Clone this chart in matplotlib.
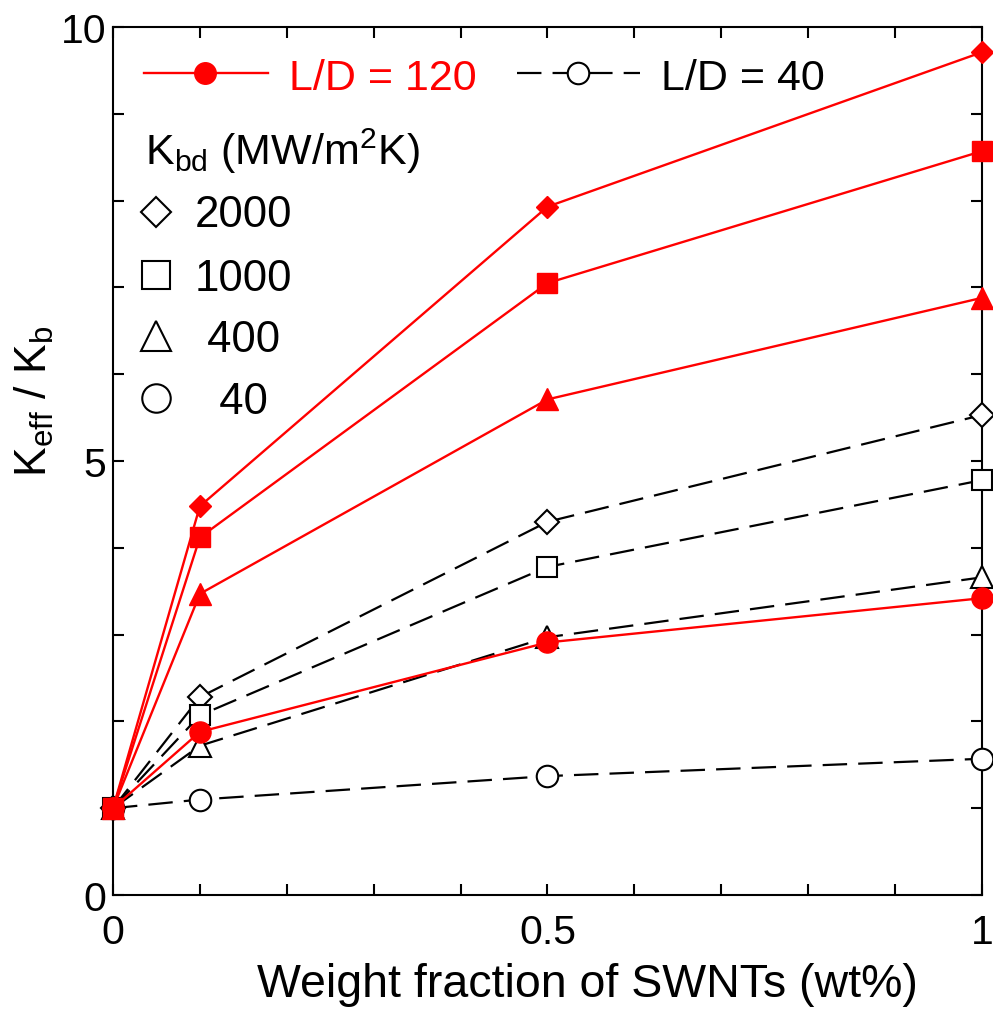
import matplotlib
matplotlib.use("Agg")
import matplotlib.pyplot as plt

plt.rcParams['font.family'] = ['Liberation Sans', 'DejaVu Sans']
plt.rcParams['mathtext.default'] = 'regular'

# weight fraction of SWNTs (wt%)
wt = [0, 0.1, 0.5, 1.0]

# L/D = 120 (red, filled)
ld120_2000 = [1.0, 4.48, 7.93, 9.71]
ld120_1000 = [1.0, 4.12, 7.05, 8.57]
ld120_400 = [1.0, 3.47, 5.71, 6.88]
ld120_40 = [1.0, 1.88, 2.91, 3.42]

# L/D = 40 (black, open)
ld40_2000 = [1.0, 2.28, 4.30, 5.53]
ld40_1000 = [1.0, 2.07, 3.78, 4.78]
ld40_400 = [1.0, 1.72, 2.97, 3.66]
ld40_40 = [1.0, 1.10, 1.37, 1.57]

kbd_labels = ['2000', '1000', ' 400', '  40']
markers = ['D', 's', '^', 'o']
msizes = [12.5, 14.5, 16, 15.5]

red = '#ff0000'
dash = (0, (11, 5))

fig = plt.figure(figsize=(9.93, 10.12), dpi=100)
ax = fig.add_axes([0.1138, 0.1146, 0.8751, 0.8577])

# open black dashed lines first
for ys, m, s in zip([ld40_2000, ld40_1000, ld40_400, ld40_40], markers, msizes):
    ax.plot(wt, ys, color='black', lw=1.6, ls=dash, marker=m, ms=s,
            mfc='white', mec='black', mew=1.5, clip_on=False, zorder=3)

# red solid lines on top (square last, visible at origin)
for ys, m, s in zip([ld120_2000, ld120_40, ld120_400, ld120_1000],
                    ['D', 'o', '^', 's'], [11.5, 15.2, 15.8, 14.6]):
    ax.plot(wt, ys, color=red, lw=1.7, ls='-', marker=m, ms=s,
            mfc=red, mec=red, mew=1.0, clip_on=False, zorder=4)

ax.set_xlim(0, 1)
ax.set_ylim(0, 10)
ax.set_xticks([0, 0.5, 1])
ax.set_xticklabels(['0', '0.5', '1'])
ax.set_xticks([i / 10 for i in range(11)], minor=True)
ax.set_yticks([0, 5, 10])
ax.set_yticks(range(11), minor=True)

for sp in ax.spines.values():
    sp.set_linewidth(1.5)
ax.tick_params(which='both', direction='in', top=True, right=True,
               length=8, width=1.5, labelsize=29.5)
ax.tick_params(axis='x', which='major', pad=13)
ax.tick_params(axis='y', which='major', pad=5)

ax.text(-0.091, 0.57, 'K$_{eff}$ / K$_{b}$', rotation=90, fontsize=32,
        ha='center', va='center', transform=ax.transAxes)
ax.text(0.5455, -0.1164, 'Weight fraction of SWNTs (wt%)', fontsize=33.5,
        ha='center', va='baseline', transform=ax.transAxes)

# legend drawn by hand
ax.plot([0.0357, 0.178], [0.947, 0.947], color=red, lw=1.7,
        transform=ax.transAxes, clip_on=False, zorder=5)
ax.plot([0.106], [0.947], marker='o', ms=15.5, color=red,
        transform=ax.transAxes, clip_on=False, zorder=6)
ax.text(0.2025, 0.9286, 'L/D = 120', color=red, fontsize=31,
        va='baseline', transform=ax.transAxes)

ax.plot([0.465, 0.606], [0.947, 0.947], color='black', lw=1.6, ls=dash,
        transform=ax.transAxes, clip_on=False, zorder=5)
ax.plot([0.535], [0.947], marker='o', ms=15.5, mfc='white', mec='black',
        mew=1.5, transform=ax.transAxes, clip_on=False, zorder=6)
ax.text(0.631, 0.9286, 'L/D = 40', color='black', fontsize=31,
        va='baseline', transform=ax.transAxes)

ax.text(0.0368, 0.842, 'K$_{bd}$ (MW/m$^{2}$K)', fontsize=31,
        va='baseline', transform=ax.transAxes)

leg_y = [0.787, 0.714, 0.644, 0.5726]
leg_ms = [15.5, 20, 21, 20.5]
for lab, m, s, y in zip(kbd_labels, markers, leg_ms, leg_y):
    ax.plot([0.0495], [y], marker=m, ms=s, mfc='white', mec='black', mew=1.5,
            ls='none', transform=ax.transAxes, clip_on=False)
    ax.text(0.0944, y - 0.0167, lab, fontsize=31.5, va='baseline',
            transform=ax.transAxes)

fig.savefig('out.png', dpi=100)
